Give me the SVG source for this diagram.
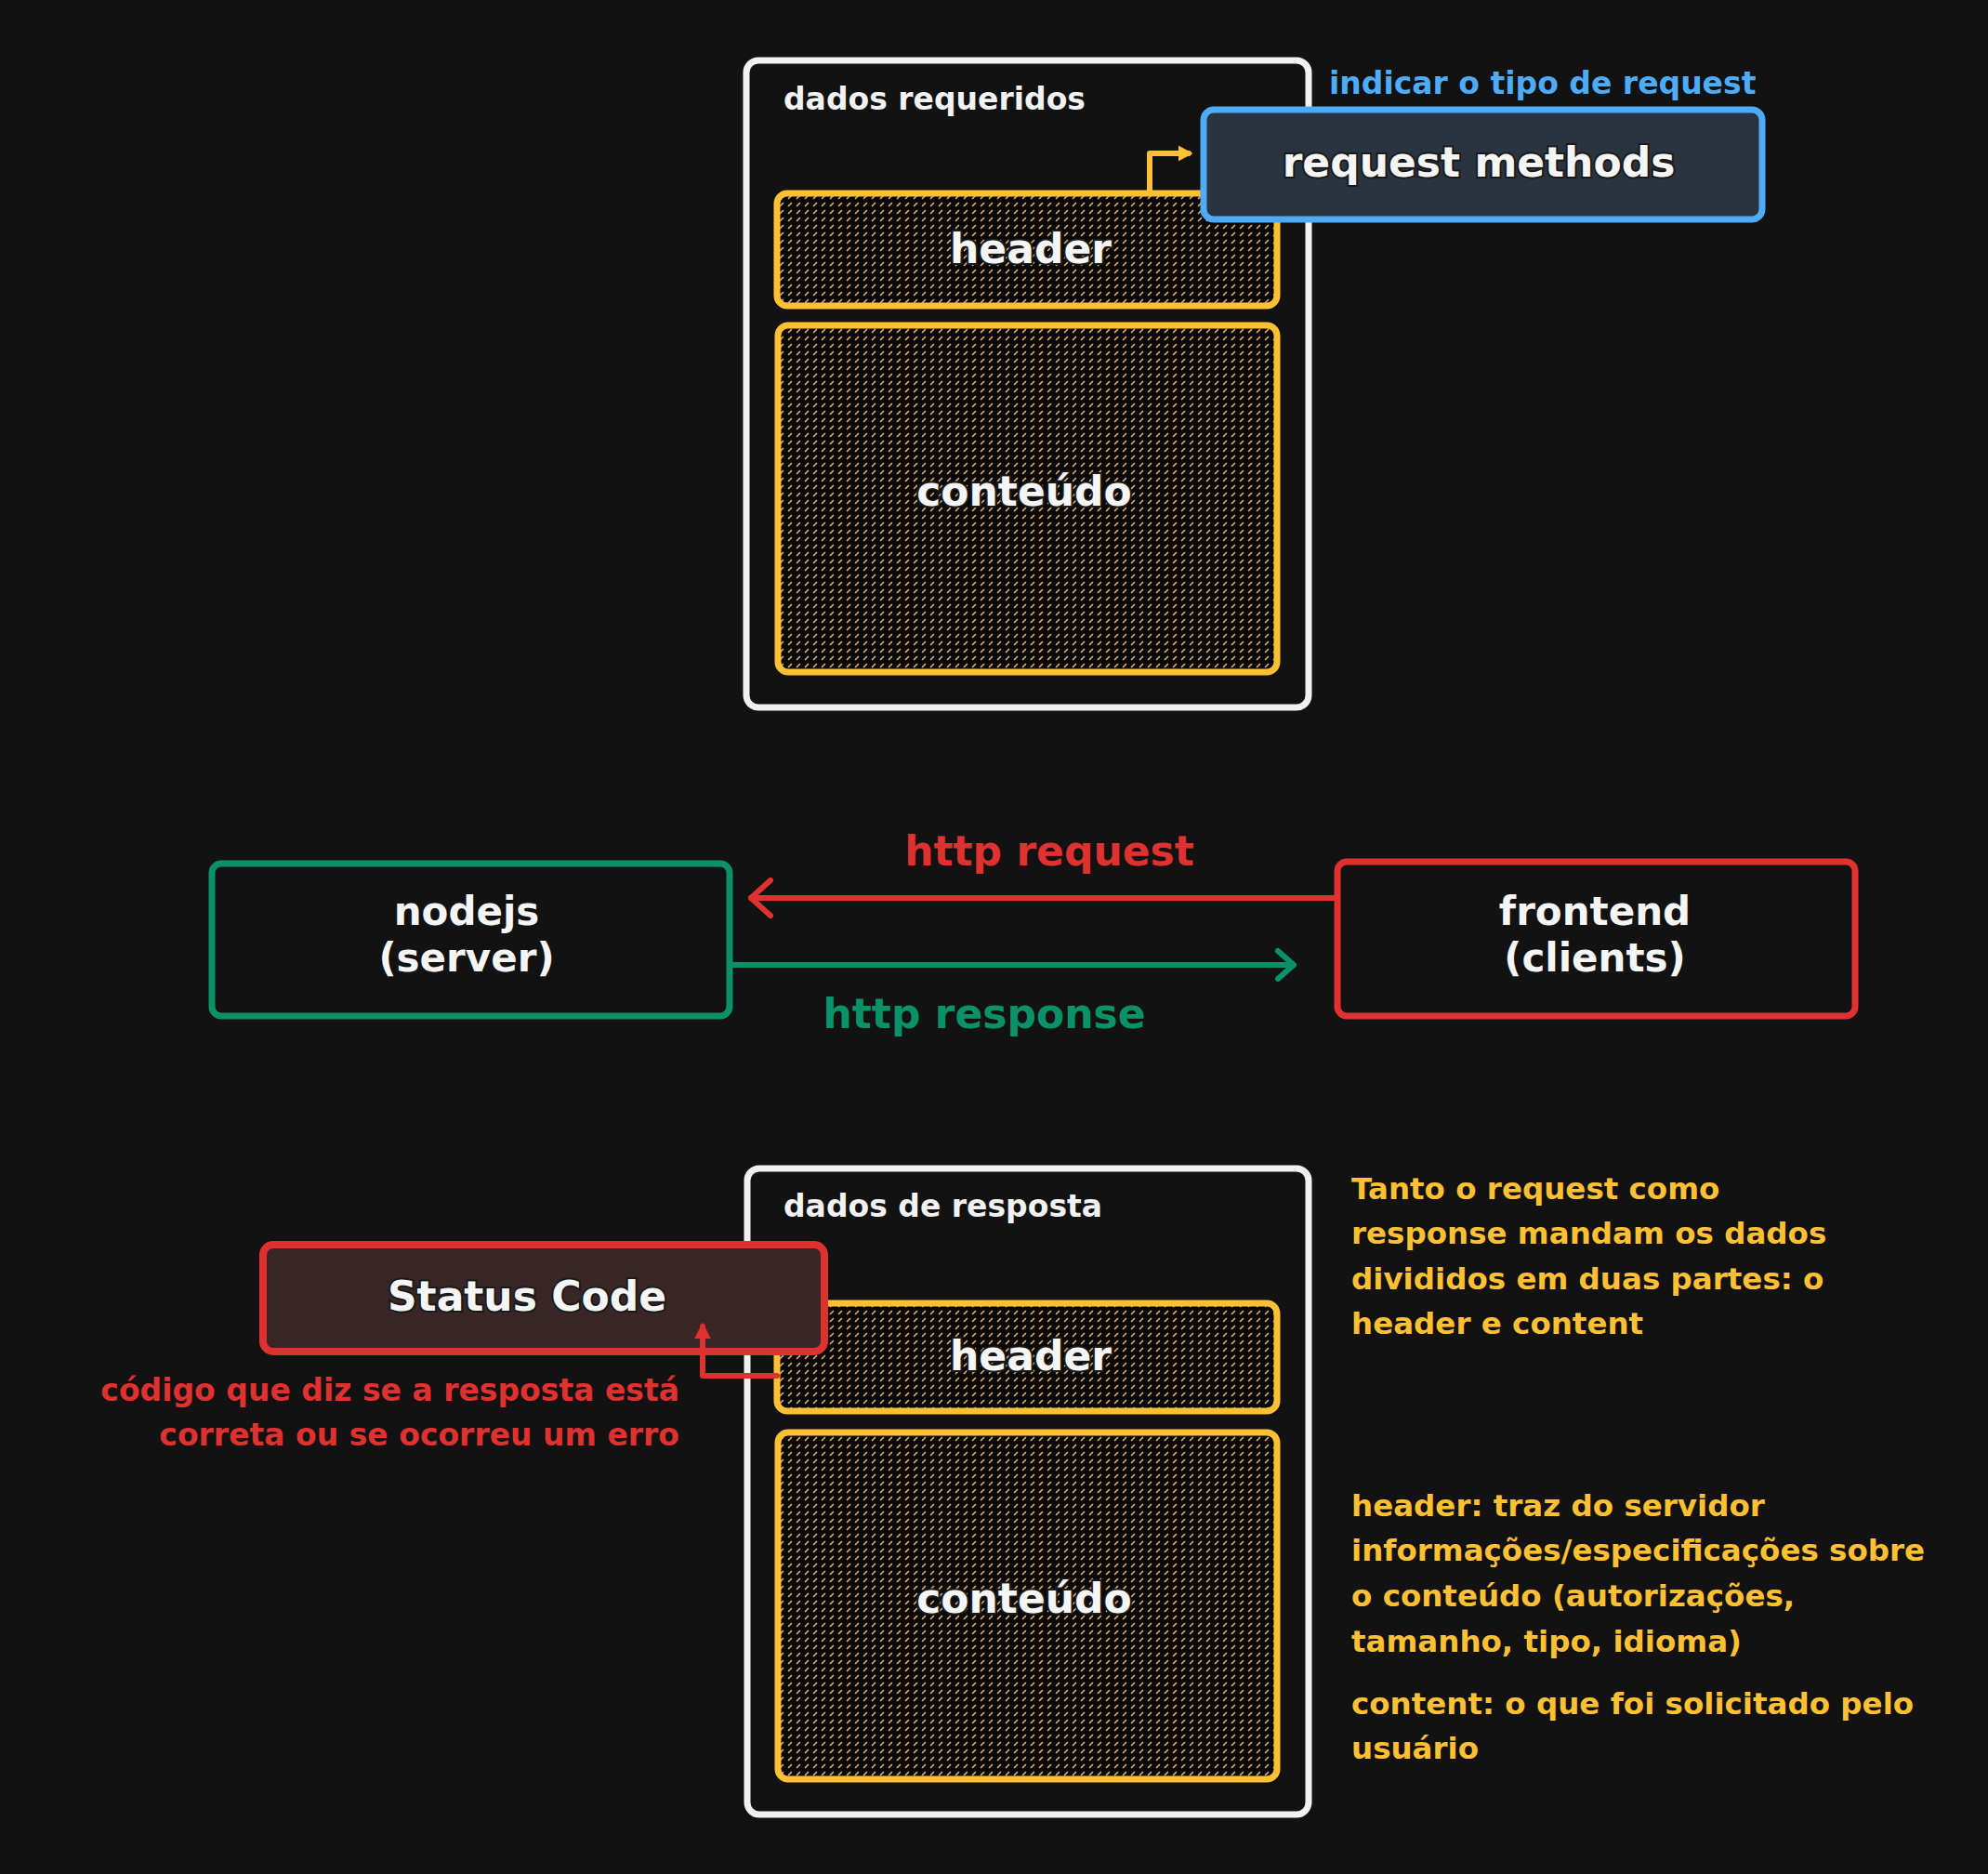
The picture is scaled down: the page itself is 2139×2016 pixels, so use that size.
<svg xmlns="http://www.w3.org/2000/svg" width="2139" height="2016" viewBox="0 0 2139 2016">
<style>
text{font-family:"DejaVu Sans","Noto Sans",sans-serif;font-weight:bold;}
.lbl{font-size:33px;fill:#f2f2f2;}
.big{font-size:44px;fill:#f5f5f5;text-anchor:middle;stroke:#1a1a1a;stroke-width:4px;paint-order:stroke;}
.node{font-size:42px;fill:#f5f5f5;text-anchor:middle;}
.note{font-size:32.5px;fill:#ffc034;}
.cont{fill:#121212;stroke:#f1f1f1;stroke-width:7;}
.part{fill:url(#hatch);stroke:#ffc034;stroke-width:7;}
.conn{fill:none;stroke-width:6;stroke-linecap:round;stroke-linejoin:round;}
</style>
<defs>
<pattern id="hatch" patternUnits="userSpaceOnUse" width="9" height="8">
<rect width="9" height="8" fill="#070707"/>
<line x1="2.5" y1="5.5" x2="5.5" y2="2.5" stroke="#e0ad62" stroke-width="1.7" stroke-linecap="round"/>
</pattern>
<marker id="triY" markerUnits="userSpaceOnUse" markerWidth="20" markerHeight="20" refX="11" refY="10" orient="auto" viewBox="0 0 20 20">
<path d="M0 2.5 L14 10 L0 17.5 Z" fill="#ffc034" stroke="#ffc034" stroke-width="1.5" stroke-linejoin="round"/>
</marker>
<marker id="triR" markerUnits="userSpaceOnUse" markerWidth="20" markerHeight="20" refX="13" refY="10" orient="auto" viewBox="0 0 20 20">
<path d="M0 2 L16 10 L0 18 Z" fill="#e03131" stroke="#e03131" stroke-width="1.5" stroke-linejoin="round"/>
</marker>
</defs>
<rect width="2139" height="2016" fill="#121212"/>

<g id="request-container">
<rect class="cont" x="803" y="65" width="605" height="696" rx="13"/>
<text class="lbl" x="843" y="118">dados requeridos</text>
</g>
<g id="request-header">
<rect class="part" x="836" y="208" width="538" height="121" rx="11"/>
<text class="big" x="1109" y="283">header</text>
</g>
<g id="request-content">
<rect class="part" x="837" y="350" width="537" height="373" rx="11"/>
<text class="big" x="1102" y="544">conteúdo</text>
</g>
<g id="request-methods">
<rect x="1295" y="118" width="601" height="118" rx="11" fill="#2a3440" stroke="#4dabf7" stroke-width="7"/>
<text class="big" x="1591" y="190">request methods</text>
</g>
<g id="request-methods-note">
<text class="lbl" x="1430" y="101" style="fill:#4dabf7">indicar o tipo de request</text>
</g>

<g id="nodejs">
<rect x="228" y="929" width="557" height="164" rx="10" fill="#121212" stroke="#099268" stroke-width="7"/>
<text class="node" x="502" y="995">nodejs</text>
<text class="node" x="502" y="1045">(server)</text>
</g>
<g id="frontend">
<rect x="1439" y="927" width="557" height="166" rx="10" fill="#121212" stroke="#e03131" stroke-width="7"/>
<text class="node" x="1716" y="995">frontend</text>
<text class="node" x="1716" y="1045">(clients)</text>
</g>

<g id="response-container">
<rect class="cont" x="804" y="1257" width="604" height="695" rx="13"/>
<text class="lbl" x="843" y="1309">dados de resposta</text>
</g>
<g id="response-header">
<rect class="part" x="836" y="1402" width="538" height="116" rx="11"/>
<text class="big" x="1109" y="1474">header</text>
</g>
<g id="response-content">
<rect class="part" x="837" y="1541" width="537" height="373" rx="11"/>
<text class="big" x="1102" y="1735">conteúdo</text>
</g>
<g id="status-code">
<rect x="283" y="1339" width="604" height="115" rx="11" fill="#3a2627" stroke="#e03131" stroke-width="8"/>
<text class="big" x="567" y="1410">Status Code</text>
</g>
<g id="status-note">
<text class="lbl" x="731" y="1507" text-anchor="end" style="fill:#e03131">código que diz se a resposta está</text>
<text class="lbl" x="731" y="1555" text-anchor="end" style="fill:#e03131">correta ou se ocorreu um erro</text>
</g>
<g id="summary-note">
<text class="note" x="1454" y="1290">Tanto o request como</text>
<text class="note" x="1454" y="1338">response mandam os dados</text>
<text class="note" x="1454" y="1387">divididos em duas partes: o</text>
<text class="note" x="1454" y="1435">header e content</text>
<text class="note" x="1454" y="1631">header: traz do servidor</text>
<text class="note" x="1454" y="1679">informações/especificações sobre</text>
<text class="note" x="1454" y="1728">o conteúdo (autorizações,</text>
<text class="note" x="1454" y="1777">tamanho, tipo, idioma)</text>
<text class="note" x="1454" y="1844">content: o que foi solicitado pelo</text>
<text class="note" x="1454" y="1892">usuário</text>
</g>

<g id="connectors">
<path class="conn" d="M1237 205 L1237 165 L1279 165" stroke="#ffc034" marker-end="url(#triY)"/>
<path class="conn" d="M1438 966 L808 966" stroke="#e03131"/>
<path class="conn" d="M829 947 L808 966 L829 985" stroke="#e03131"/>
<path class="conn" d="M787 1038 L1391 1038" stroke="#099268"/>
<path class="conn" d="M1375 1023 L1392 1038 L1375 1053" stroke="#099268"/>
<path class="conn" d="M836 1480 L756 1480 L756 1427" stroke="#e03131" marker-end="url(#triR)"/>
<text x="1129" y="931" text-anchor="middle" style="font-size:44px;fill:#e03131">http request</text>
<text x="1059" y="1106" text-anchor="middle" style="font-size:44px;fill:#099268">http response</text>
</g>
</svg>
